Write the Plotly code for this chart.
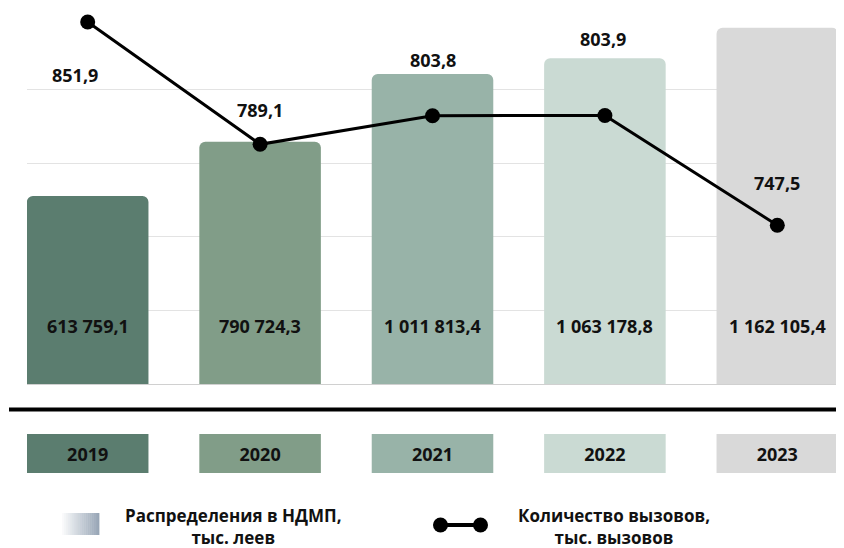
import plotly.graph_objects as go

# ---- data ----
years = ["2019", "2020", "2021", "2022", "2023"]
distribution = [613759.1, 790724.3, 1011813.4, 1063178.8, 1162105.4]   # тыс. леев
distribution_labels = ["613 759,1", "790 724,3", "1 011 813,4", "1 063 178,8", "1 162 105,4"]
calls = [851.9, 789.1, 803.8, 803.9, 747.5]                            # тыс. вызовов
calls_labels = ["851,9", "789,1", "803,8", "803,9", "747,5"]

# ---- styles ----
bar_colors = ["#5B7D6F", "#819D88", "#98B3A8", "#CADAD3", "#D9D9D9"]
label_yshift = [-53, 34, 56, 77, 42]
label_xshift = [-13, 0, 0, -2, 0]
FONT = "Open Sans"

# page body has an 8px margin: the figure starts at (8, 8) in the screenshot
OFF = 8
W, H = 844 - OFF, 548 - OFF
PL, PR, PT, PB = 27, 838, 16, 473          # plotting area in screenshot pixels
ML, MR, MT, MB = PL - OFF, 844 - PR, PT - OFF, 548 - PB
PW, PH = PR - PL, PB - PT


def px_x(px):
    return (px - PL) / PW


def px_y(py):
    return (PB - py) / PH


fig = go.Figure()

# main bars
fig.add_trace(go.Bar(
    x=years, y=distribution, marker=dict(color=bar_colors, cornerradius=6, line=dict(width=0)),
    yaxis="y", hoverinfo="skip", showlegend=False,
))

# year boxes
fig.add_trace(go.Bar(
    x=years, y=[1] * len(years), yaxis="y3",
    marker=dict(color=bar_colors, line=dict(width=0)),
    text=years, textposition="inside", insidetextanchor="middle",
    textfont=dict(family=FONT, size=18, color="#111111", weight="bold"),
    hoverinfo="skip", showlegend=False,
))

# line
fig.add_trace(go.Scatter(
    x=years, y=calls, yaxis="y2", mode="lines+markers", cliponaxis=False,
    line=dict(color="#000000", width=3),
    marker=dict(color="#000000", size=15),
    hoverinfo="skip", showlegend=False,
))

num_font = dict(family=FONT, size=18, color="#111111", weight="bold")
annotations = []
for i, lab in enumerate(distribution_labels):
    annotations.append(dict(
        x=i, xref="x", y=px_y(326), yref="paper", text=lab, showarrow=False,
        yanchor="middle", xanchor="center", font=num_font,
    ))
for i, (v, lab, ys, xs) in enumerate(zip(calls, calls_labels, label_yshift, label_xshift)):
    annotations.append(dict(
        x=i, xref="x", y=v, yref="y2", text=lab, showarrow=False,
        yshift=ys, xshift=xs, yanchor="middle", xanchor="center", font=num_font,
    ))

# legend texts
leg_font = dict(family=FONT, size=17, color="#111111", weight="bold")
annotations += [
    dict(x=px_x(234), y=px_y(526), xref="paper", yref="paper",
         text="Распределения в НДМП,<br>тыс. леев",
         showarrow=False, xanchor="center", yanchor="middle", align="center", font=leg_font),
    dict(x=px_x(614), y=px_y(526), xref="paper", yref="paper",
         text="Количество вызовов,<br>тыс. вызовов",
         showarrow=False, xanchor="center", yanchor="middle", align="center", font=leg_font),
]

shapes = []
# thick separator line
shapes.append(dict(type="line", xref="paper", yref="paper",
                   x0=px_x(9), x1=px_x(846), y0=px_y(409.5), y1=px_y(409.5),
                   line=dict(color="#000000", width=4)))
# gradient legend square (strips)
n = 20
x0, x1, y0, y1 = 60, 99, 513, 535
c0, c1 = (255, 255, 255), (152, 166, 182)
for i in range(n):
    t = i / (n - 1)
    col = tuple(round(a + (b - a) * t) for a, b in zip(c0, c1))
    xa = x0 + (x1 - x0) * i / n
    xb = x0 + (x1 - x0) * (i + 1) / n
    shapes.append(dict(type="rect", xref="paper", yref="paper",
                       x0=px_x(xa), x1=px_x(xb) + 0.0005, y0=px_y(y1), y1=px_y(y0),
                       line=dict(width=0), fillcolor="rgb(%d,%d,%d)" % col))
# legend line symbol
shapes.append(dict(type="line", xref="paper", yref="paper",
                   x0=px_x(440.5), x1=px_x(480.5), y0=px_y(525), y1=px_y(525),
                   line=dict(color="#000000", width=4)))
for cx in (440.5, 480.5):
    shapes.append(dict(type="circle", xref="paper", yref="paper",
                       x0=px_x(cx - 7.5), x1=px_x(cx + 7.5), y0=px_y(532.5), y1=px_y(517.5),
                       line=dict(width=0), fillcolor="#000000"))

main_bottom = px_y(384)
fig.update_layout(
    width=W, height=H,
    margin=dict(l=ML, r=MR, t=MT, b=MB, pad=0),
    paper_bgcolor="white", plot_bgcolor="white",
    bargap=0.295,
    font=dict(family=FONT),
    xaxis=dict(type="category", range=[-0.352, 4.352], showticklabels=False,
               showgrid=False, zeroline=False, showline=False, ticks=""),
    yaxis=dict(domain=[main_bottom, 1], range=[0, 1200800], tick0=0, dtick=240000,
               showticklabels=False, showgrid=True, gridcolor="#E3E3E3", gridwidth=1,
               zeroline=True, zerolinecolor="#D0D0D0", zerolinewidth=1, ticks=""),
    yaxis2=dict(overlaying="y", range=[666, 855], showticklabels=False,
                showgrid=False, zeroline=False, ticks=""),
    yaxis3=dict(domain=[0, px_y(434)], range=[0, 1], showticklabels=False,
                showgrid=False, zeroline=False, ticks=""),
    annotations=annotations,
    shapes=shapes,
    showlegend=False,
)

fig.write_html("out.html")
